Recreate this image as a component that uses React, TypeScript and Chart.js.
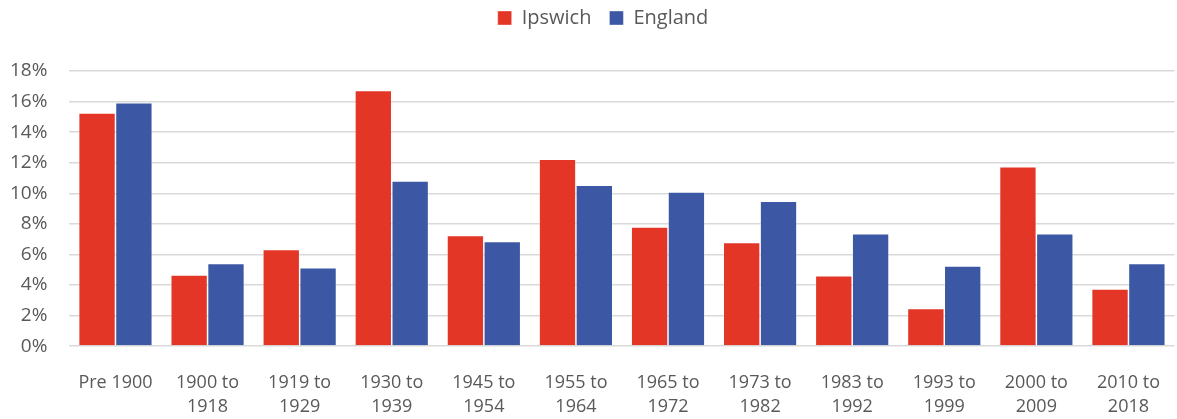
import React, { useEffect, useRef } from "react";
import { Chart, registerables } from "chart.js";

Chart.register(...registerables);

const categories: (string | string[])[] = [
  "Pre 1900",
  ["1900 to", "1918"],
  ["1919 to", "1929"],
  ["1930 to", "1939"],
  ["1945 to", "1954"],
  ["1955 to", "1964"],
  ["1965 to", "1972"],
  ["1973 to", "1982"],
  ["1983 to", "1992"],
  ["1993 to", "1999"],
  ["2000 to", "2009"],
  ["2010 to", "2018"],
];

const ipswich = [15.25, 4.65, 6.32, 16.72, 7.23, 12.22, 7.8, 6.78, 4.6, 2.46, 11.74, 3.73];
const england = [15.93, 5.4, 5.12, 10.8, 6.84, 10.52, 10.09, 9.48, 7.36, 5.25, 7.36, 5.4];

const yTicks = [0, 2, 4, 6, 8, 10, 12, 14, 16, 18];

const FONT = "'Open Sans', 'Noto Sans', sans-serif";

const legendGap = {
  id: "legendGap",
  beforeInit(chart: any) {
    const orig = chart.legend.fit;
    chart.legend.fit = function () {
      orig.call(this);
      this.height += 33;
    };
  },
  afterLayout(chart: any) {
    const lg = chart.legend;
    if (lg) {
      lg.left += 20;
      lg.right += 20;
    }
  },
};

export default function App() {
  const ref = useRef<HTMLCanvasElement | null>(null);

  useEffect(() => {
    if (!ref.current) return;
    const chart = new Chart(ref.current, {
      type: "bar",
      data: {
        labels: categories,
        datasets: [
          {
            label: "Ipswich",
            data: ipswich,
            backgroundColor: "#E33626",
            borderColor: "rgba(255,255,255,0.5)",
            borderWidth: 0.75,
            categoryPercentage: 0.8,
            barPercentage: 1.0,
          },
          {
            label: "England",
            data: england,
            backgroundColor: "#3C57A3",
            borderColor: "rgba(255,255,255,0.5)",
            borderWidth: 0.75,
            categoryPercentage: 0.8,
            barPercentage: 1.0,
          },
        ],
      },
      plugins: [legendGap],
      options: {
        animation: false,
        responsive: true,
        maintainAspectRatio: false,
        layout: { padding: { top: -10, right: -1, left: -12, bottom: -17 } },
        plugins: {
          legend: {
            position: "top",
            labels: {
              boxWidth: 14,
              boxHeight: 14,
              color: "#595959",
              font: { family: FONT, size: 20 },
              padding: 18,
            },
          },
          tooltip: { enabled: false },
        },
        scales: {
          x: {
            grid: { display: false },
            border: { display: false },
            ticks: {
              color: "#595959",
              font: { family: FONT, size: 18, lineHeight: 1.33 },
              maxRotation: 0,
              autoSkip: false,
              padding: 17,
            },
          },
          y: {
            min: 0,
            max: 18,
            afterBuildTicks: (axis: any) => {
              axis.ticks = yTicks.map((v) => ({ value: v }));
            },
            grid: { color: "#D9D9D9", lineWidth: 1.5, drawTicks: false },
            border: { display: false },
            ticks: {
              color: "#595959",
              font: { family: FONT, size: 19 },
              padding: 22,
              callback: (v: any) => `${v}%`,
            },
          },
        },
      },
    });
    return () => chart.destroy();
  }, []);

  return (
    <div style={{ position: "fixed", left: 0, top: 0, width: 1177, height: 419, background: "#fff" }}>
      <canvas ref={ref} />
    </div>
  );
}
